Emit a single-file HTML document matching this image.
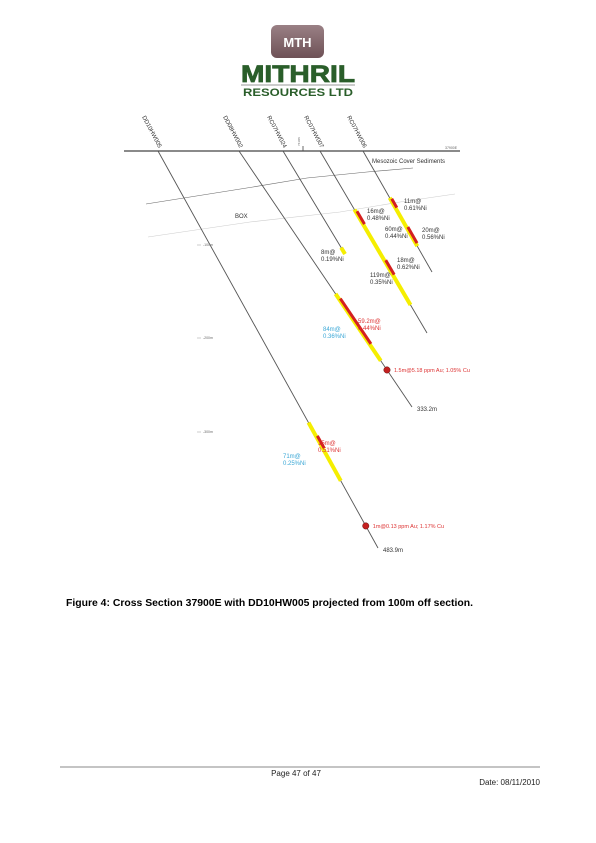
<!DOCTYPE html>
<html><head><meta charset="utf-8">
<style>
html,body{margin:0;padding:0;background:#fff;}
body{width:596px;height:843px;position:relative;overflow:hidden;font-family:"Liberation Sans",Arial,sans-serif;}
svg{position:absolute;left:0;top:0;}
</style></head>
<body>
<svg id="chart" width="596" height="843" viewBox="0 0 596 843">
  <g>
    <defs><linearGradient id="lg" x1="0" y1="0" x2="0" y2="1"><stop offset="0" stop-color="#9a8085"/><stop offset="1" stop-color="#6e5156"/></linearGradient></defs>
    <rect x="271" y="25" width="53" height="33" rx="6" fill="url(#lg)"/>
    <text x="297.5" y="47" text-anchor="middle" font-size="13" font-weight="bold" fill="#fff">MTH</text>
    <text x="241" y="82" font-size="24" font-weight="bold" fill="#2a5e2a" stroke="#2a5e2a" stroke-width="0.8" textLength="114" lengthAdjust="spacingAndGlyphs">MITHRIL</text>
    <line x1="241" y1="85" x2="355" y2="85" stroke="#bbb" stroke-width="1.5"/>
    <text x="243" y="96" font-size="11" font-weight="bold" fill="#2a5e2a" textLength="110" lengthAdjust="spacingAndGlyphs">RESOURCES LTD</text>
  </g>
  <g id="plot"></g>
  <text x="66" y="606" font-size="10" font-weight="bold" fill="#000" textLength="407" lengthAdjust="spacingAndGlyphs">Figure 4: Cross Section 37900E with DD10HW005 projected from 100m off section.</text>
  <line x1="60" y1="767" x2="540" y2="767" stroke="#888" stroke-width="1"/>
  <text x="296" y="776" text-anchor="middle" font-size="8" fill="#222">Page 47 of 47</text>
  <text x="540" y="785" text-anchor="end" font-size="8" fill="#222">Date: 08/11/2010</text>
</svg>
<script>
const holeNames = ["DD10HW005","DD08HW002","RC07HW024","RC07HW007","RC07HW006"];
const holeCollarX = [158,239,283,320,363];
const holeEndX = [378,412,345,427,432];
const holeEndY = [548,407,254,333,272];
const holeLengths = [483.9,333.2,129,227,150];
const holeEndLabels = ["483.9m","333.2m","","",""];
const intHole = [0,0,1,1,2,3,3,3,4,4,4];
const intFrom = [331,348,186,193,121,73,76,137,58,60,95];
const intTo   = [402,363,273,252,129,192,92,155,118,71,115];
const intType = ["y","r","y","r","y","y","r","r","y","r","r"];
const labelText = ["71m@|0.25%Ni","15m@|0.51%Ni","84m@|0.36%Ni","59.2m@|0.44%Ni","8m@|0.19%Ni","16m@|0.48%Ni","60m@|0.44%Ni","18m@|0.62%Ni","119m@|0.35%Ni","11m@|0.61%Ni","20m@|0.56%Ni"];
const labelX = [283,318,323,358,321,367,385,397,370,404,422];
const labelY = [458,445,331,323,254,213,231,262,277,203,232];
const labelColor = ["#3aa7d6","#d33","#3aa7d6","#d33","#333","#333","#333","#333","#333","#333","#333"];
const ptHole = [1,0];
const ptDepth = [285,457];
const ptLabels = ["1.5m@5.18 ppm Au; 1.05% Cu","1m@0.13 ppm Au; 1.17% Cu"];
const depthTicks = ["-100m","-200m","-300m"];
const depthTickY = [245,338,432];
const surfaceY = 151;

const NS="http://www.w3.org/2000/svg";
const g=document.getElementById('plot');
function mk(t,a){const e=document.createElementNS(NS,t);for(const k in a)e.setAttribute(k,a[k]);g.appendChild(e);return e;}
function pos(h,d){const f=d/holeLengths[h];return [holeCollarX[h]+(holeEndX[h]-holeCollarX[h])*f, surfaceY+(holeEndY[h]-surfaceY)*f];}

let e=mk('line',{x1:124,y1:surfaceY,x2:460,y2:surfaceY,stroke:'#444','stroke-width':1.2});


e=mk('line',{x1:303,y1:surfaceY,x2:303,y2:surfaceY-5,stroke:'#444','stroke-width':0.8});


e=mk('text',{x:300,y:146,'font-size':3,fill:'#666',transform:'rotate(-90 300 146)'});e.textContent='7410N';


e=mk('text',{x:445,y:149,'font-size':3.5,fill:'#666'});e.textContent='37900E';


e=mk('text',{x:372,y:163,'font-size':6,fill:'#333'});e.textContent='Mesozoic Cover Sediments';


e=mk('path',{d:'M146 204 L253 187 L307 178 L367 172 L413 168',fill:'none',stroke:'#666','stroke-width':0.6});


e=mk('path',{d:'M148 237 L250 222 L340 212 L400 202 L455 194',fill:'none',stroke:'#ccc','stroke-width':0.6});


e=mk('text',{x:235,y:218,'font-size':6,fill:'#333'});e.textContent='BOX';



depthTicks.forEach((t,i)=>{
  let l=mk('line',{x1:197,y1:depthTickY[i],x2:201,y2:depthTickY[i],stroke:'#999','stroke-width':0.5});
  
  
  let x=mk('text',{x:203,y:depthTickY[i]+1.2,'font-size':3.5,fill:'#666'});x.textContent=t;
  
  
});

holeNames.forEach((n,i)=>{
  const l=mk('line',{x1:holeCollarX[i],y1:surfaceY,x2:holeEndX[i],y2:holeEndY[i],stroke:'#555','stroke-width':0.9});
  
  
  const tx=holeCollarX[i]-16, ty=117;
  const t=mk('text',{x:tx,y:ty,'font-size':6,fill:'#333',transform:`rotate(62 ${tx} ${ty})`});t.textContent=n;
  
  
  if(holeEndLabels[i]){const q=mk('text',{x:holeEndX[i]+5,y:holeEndY[i]+4,'font-size':6,fill:'#333'});q.textContent=holeEndLabels[i];
  
  }
});
['y','r'].forEach(tp=>intHole.forEach((h,i)=>{
  if(intType[i]!==tp)return;
  const a=pos(h,intFrom[i]),b=pos(h,intTo[i]);
  const dx=b[0]-a[0],dy=b[1]-a[1],L=Math.hypot(dx,dy),off=tp==='r'?1.3:0;
  const ox=dy/L*off,oy=-dx/L*off;
  const s=mk('line',{x1:a[0]+ox,y1:a[1]+oy,x2:b[0]+ox,y2:b[1]+oy,stroke:tp==='y'?'#f5ee00':'#d42020','stroke-width':tp==='y'?4:3});
  
  
}));
labelText.forEach((t,i)=>{
  const p=t.split('|');
  const x=mk('text',{x:labelX[i],y:labelY[i],'font-size':6,fill:labelColor[i]});
  x.innerHTML=`<tspan x="${labelX[i]}">${p[0]}</tspan><tspan x="${labelX[i]}" dy="7">${p[1]}</tspan>`;
  
  
});
ptHole.forEach((h,i)=>{
  const p=pos(h,ptDepth[i]);
  const c=mk('circle',{cx:p[0],cy:p[1],r:3.2,fill:'#c42020',stroke:'#611',"stroke-width":0.5});
  
  
  const t=mk('text',{x:p[0]+7,y:p[1]+2,'font-size':5.5,fill:'#d33'});t.textContent=ptLabels[i];
  
  
});
</script>
</body></html>
